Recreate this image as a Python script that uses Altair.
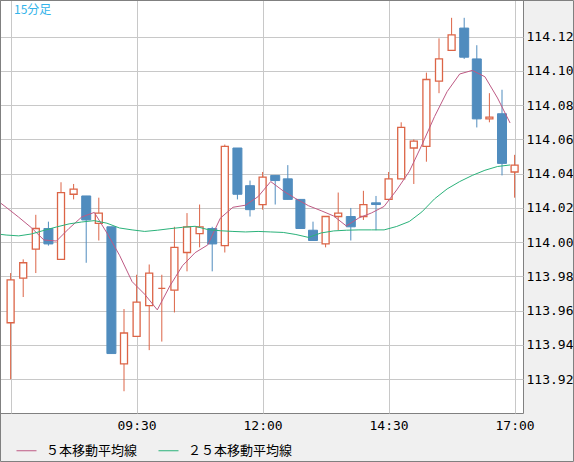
import altair as alt
import pandas as pd

# ---- data (USD/JPY, 15-minute bars) ----
times = [t.strftime("%Y-%m-%dT%H:%M:%S") for t in pd.date_range("2022-01-05 07:00", periods=41, freq="15min")]
opens = [113.953, 113.979, 113.996, 114.008, 113.990, 114.028, 114.027, 114.011, 114.009, 113.929,
         113.945, 113.963, 113.973, 113.972, 113.994, 114.005, 114.008, 113.998, 114.055, 114.033,
         114.022, 114.039, 114.037, 114.025, 114.007, 113.999, 114.015, 114.015, 114.015, 114.023,
         114.025, 114.037, 114.055, 114.056, 114.094, 114.112, 114.125, 114.107, 114.072, 114.075,
         114.041]
highs = [113.982, 113.990, 114.016, 114.012, 114.035, 114.034, 114.027, 114.026, 114.009, 113.961,
         113.981, 113.987, 113.981, 114.009, 114.017, 114.022, 114.009, 114.057, 114.055, 114.036,
         114.041, 114.039, 114.045, 114.025, 114.012, 114.015, 114.029, 114.020, 114.030, 114.027,
         114.041, 114.070, 114.060, 114.099, 114.119, 114.131, 114.131, 114.115, 114.087, 114.089,
         114.051]
lows = [113.920, 113.968, 113.982, 113.998, 113.990, 114.025, 113.988, 114.001, 113.935, 113.913,
        113.945, 113.937, 113.942, 113.959, 113.983, 113.997, 113.983, 113.994, 114.025, 114.015,
        114.019, 114.022, 114.025, 114.008, 114.001, 113.997, 114.007, 114.001, 114.013, 114.007,
        114.025, 114.037, 114.034, 114.047, 114.087, 114.112, 114.107, 114.067, 114.070, 114.039,
        114.026]
closes = [113.978, 113.988, 114.008, 113.999, 114.029, 114.031, 114.013, 114.017, 113.935, 113.947,
          113.965, 113.982, 113.973, 113.997, 114.009, 114.009, 113.999, 114.056, 114.028, 114.019,
          114.038, 114.036, 114.025, 114.008, 114.001, 114.015, 114.017, 114.009, 114.022, 114.022,
          114.037, 114.067, 114.059, 114.095, 114.107, 114.121, 114.108, 114.072, 114.073, 114.046,
          114.045]

ma_times = [t.strftime("%Y-%m-%dT%H:%M:%S") for t in pd.date_range("2022-01-05 06:45", periods=42, freq="15min")]
ma5 = [114.026, 114.0204, 114.0146, 114.0085, 114.0013, 114.0007, 114.0081, 114.0147, 114.0174, 114.0054,
       113.9924, 113.9770, 113.9696, 113.9605, 113.9745, 113.9863, 113.9939, 113.9984, 114.0140, 114.0204,
       114.0216, 114.0266, 114.0354, 114.0299, 114.0254, 114.0213, 114.0184, 114.0153, 114.0095, 114.0142,
       114.0171, 114.0209, 114.0305, 114.0413, 114.0568, 114.0733, 114.0879, 114.0982, 114.1003, 114.0966,
       114.0842, 114.0696]
ma25 = [114.0051, 114.0042, 114.0037, 114.0048, 114.0069, 114.0089, 114.0107, 114.0118, 114.0126, 114.0111,
        114.0083, 114.0072, 114.0063, 114.0070, 114.0079, 114.0087, 114.0093, 114.0074, 114.0067, 114.0063,
        114.0060, 114.0063, 114.0060, 114.0057, 114.0045, 114.0028, 114.0054, 114.0066, 114.0070, 114.0072,
        114.0072, 114.0072, 114.0092, 114.0121, 114.0177, 114.0253, 114.0311, 114.0354, 114.0390, 114.0420,
        114.0442, 114.0451]

series_names = ["５本移動平均線", "２５本移動平均線"]
series_colors = ["#be5a84", "#2ab27a"]
y_ticks = [113.92, 113.94, 113.96, 113.98, 114.00, 114.02, 114.04, 114.06, 114.08, 114.10, 114.12]
x_ticks = [(7, 0), (9, 30), (12, 0), (14, 30), (17, 0)]

UP = "#dc6446"
DOWN = "#508cbe"

candles = pd.DataFrame({"t": times, "open": opens, "high": highs, "low": lows, "close": closes})
ma = pd.DataFrame({
    "t": ma_times * 2,
    "value": ma5 + ma25,
    "series": [series_names[0]] * len(ma5) + [series_names[1]] * len(ma25),
})

x_scale = alt.Scale(domain=[alt.DateTime(year=2022, month=1, date=5, hours=6, minutes=47, seconds=22),
                            alt.DateTime(year=2022, month=1, date=5, hours=17, minutes=10)],
                    padding=0, nice=False)
x_axis = alt.Axis(
    title=None,
    values=[alt.DateTime(year=2022, month=1, date=5, hours=h, minutes=m) for h, m in x_ticks],
    labelExpr="timeFormat(datum.value, '%H:%M') == '07:00' ? '' : timeFormat(datum.value, '%H:%M')",
    labelFont="DejaVu Sans Mono", labelFontSize=13, labelColor="#000000",
    labelPadding=6, labelFlush=False, labelOverlap=False, ticks=False, domain=False, grid=True,
    gridColor="#c8c8c8", gridWidth=1,
)
y_scale = alt.Scale(domain=[113.9003, 114.1414], nice=False, zero=False, padding=0)
y_axis = alt.Axis(
    title=None, orient="right", values=y_ticks, format=".2f",
    labelFont="DejaVu Sans Mono", labelFontSize=13, labelColor="#000000",
    labelPadding=3, labelFlush=False, labelOverlap=False, ticks=False, domain=False, grid=True,
    gridColor="#c8c8c8", gridWidth=1,
)

X = alt.X("t:T", scale=x_scale, axis=x_axis)

base = alt.Chart(candles)
up_f = "datum.close >= datum.open"
down_f = "datum.close < datum.open"

wick_up = base.transform_filter(up_f).mark_rule(color=UP, strokeWidth=1).encode(
    x=X, y=alt.Y("low:Q", scale=y_scale, axis=y_axis), y2="high:Q")
wick_down = base.transform_filter(down_f).mark_rule(color=DOWN, strokeWidth=1).encode(
    x=X, y=alt.Y("low:Q", scale=y_scale, axis=y_axis), y2="high:Q")
body_up = base.transform_filter(up_f).mark_bar(size=7, fill="#ffffff", stroke=UP, strokeWidth=1.3).encode(
    x=X, y=alt.Y("open:Q", scale=y_scale, axis=y_axis), y2="close:Q")
body_down = base.transform_filter(down_f).mark_bar(size=9, fill=DOWN, stroke=DOWN, strokeWidth=1).encode(
    x=X, y=alt.Y("open:Q", scale=y_scale, axis=y_axis), y2="close:Q")

lines = alt.Chart(ma).mark_line(strokeWidth=1, xOffset=-4.5, clip=True).encode(
    x=X,
    y=alt.Y("value:Q", scale=y_scale, axis=y_axis),
    color=alt.Color("series:N", scale=alt.Scale(domain=series_names, range=series_colors),
                    sort=series_names,
                    legend=alt.Legend(orient="none", legendX=16, legendY=440, direction="horizontal",
                                      title=None, symbolType="stroke", symbolSize=400,
                                      symbolStrokeWidth=1, labelFont="Noto Sans CJK JP",
                                      labelFontSize=13, labelColor="#000000", labelOffset=9,
                                      columnPadding=18, padding=0)),
)

label = alt.Chart(pd.DataFrame({"txt": ["15分足"]})).mark_text(
    align="left", baseline="middle", font="Noto Sans CJK JP", fontSize=12, color="#33b4ea"
).encode(x=alt.value(14), y=alt.value(10), text="txt:N")

frame = alt.Chart(pd.DataFrame({"k": [0]})).mark_rect(
    fill=None, stroke="#808080", strokeWidth=1
).encode(x=alt.value(0.5), x2=alt.value(573.5), y=alt.value(0.5), y2=alt.value(461.5))

chart = alt.layer(wick_up, wick_down, body_up, body_down, lines, label, frame).properties(
    width=523, height=413,
    autosize=alt.AutoSizeParams(type="none"),
    padding={"left": 0, "top": 0, "right": 51, "bottom": 49},
    background="#f0f0f0",
).configure_view(
    fill="#ffffff", stroke="#808080", strokeWidth=1
)

chart.save("out.html", embed_options={"renderer": "svg", "actions": False})
